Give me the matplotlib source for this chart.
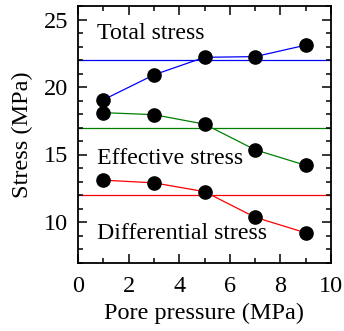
import numpy as np
import matplotlib
matplotlib.use("Agg")
import matplotlib.pyplot as plt
from matplotlib.ticker import MultipleLocator

# ── data ──────────────────────────────────────────────────────────────────────
pore = [1, 3, 5, 7, 9]
total_stress = [19.05, 20.9, 22.2, 22.25, 23.1]
effective_stress = [18.1, 17.95, 17.25, 15.35, 14.2]
differential_stress = [13.1, 12.9, 12.25, 10.35, 9.2]

ref_levels = [22.0, 17.0, 12.0]
ref_colors = ["blue", "green", "red"]
labels = ["Total stress", "Effective stress", "Differential stress"]
label_y = [23.53, 14.27, 8.73]

# ── figure ────────────────────────────────────────────────────────────────────
plt.rcParams["font.family"] = ["Liberation Serif", "DejaVu Serif"]

fig = plt.figure(figsize=(3.44, 3.31), dpi=100)
ax = fig.add_axes([78 / 344, 1 - 262.5 / 331, (331 - 78) / 344, (262.5 - 6) / 331])

series = [total_stress, effective_stress, differential_stress]
for vals, lvl, c in zip(series, ref_levels, ref_colors):
    ax.axhline(lvl, color=c, linewidth=0.9, zorder=1)
    ax.plot(pore, vals, color=c, linewidth=0.9, zorder=2)
    ax.plot(pore, vals, "o", color="black", markersize=9.5, zorder=3)

for txt, y in zip(labels, label_y):
    ax.text(0.76, y, txt, fontsize=17.2, ha="left", va="baseline")

ax.set_xlim(0, 10)
ax.set_ylim(7, 26)
ax.xaxis.set_major_locator(MultipleLocator(2))
ax.xaxis.set_minor_locator(MultipleLocator(1))
ax.yaxis.set_major_locator(MultipleLocator(5))
ax.yaxis.set_minor_locator(MultipleLocator(1))
ax.tick_params(which="both", direction="in", top=True, right=True,
               labelsize=17.5, width=1.1)
ax.tick_params(which="major", length=6.5)
ax.tick_params(which="minor", length=3.3)
ax.tick_params(axis="x", which="major", pad=10)
ax.tick_params(axis="y", which="major", pad=7)
for s in ax.spines.values():
    s.set_linewidth(1.3)

ax.set_xlabel("Pore pressure (MPa)", fontsize=17.5, labelpad=4)
ax.set_ylabel("Stress (MPa)", fontsize=17.5, labelpad=8)

fig.savefig("out.png", dpi=100)
